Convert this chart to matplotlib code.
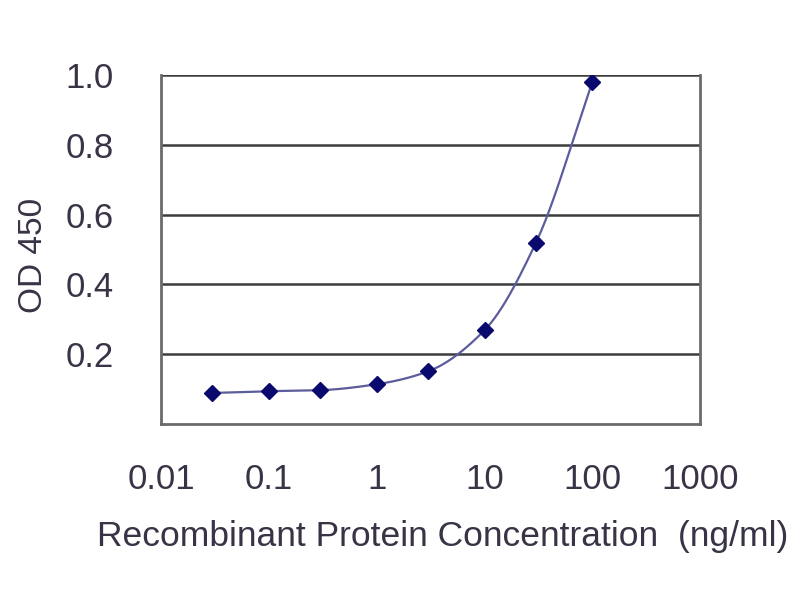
import numpy as np
import matplotlib
matplotlib.use("Agg")
import matplotlib.pyplot as plt

conc = [0.03, 0.1, 0.3, 1, 3, 10, 30, 100]
od450 = [0.089, 0.094, 0.097, 0.114, 0.151, 0.269, 0.52, 0.98]
yticks = [0.2, 0.4, 0.6, 0.8, 1.0]
ytick_labels = ["0.2", "0.4", "0.6", "0.8", "1.0"]
xticks = [0.01, 0.1, 1, 10, 100, 1000]
xtick_labels = ["0.01", "0.1", "1", "10", "100", "1000"]

plt.rcParams['font.family'] = ['Liberation Sans', 'DejaVu Sans']
txt = '#3a3345'


def pchip(x, y, xn):
    x = np.asarray(x, float); y = np.asarray(y, float)
    h = np.diff(x); d = np.diff(y) / h
    n = len(x); m = np.zeros(n)
    for k in range(1, n - 1):
        if d[k - 1] * d[k] > 0:
            w1 = 2 * h[k] + h[k - 1]; w2 = h[k] + 2 * h[k - 1]
            m[k] = (w1 + w2) / (w1 / d[k - 1] + w2 / d[k])
    m[0] = d[0]; m[-1] = d[-1]
    idx = np.clip(np.searchsorted(x, xn) - 1, 0, n - 2)
    t = (xn - x[idx]) / h[idx]
    h00 = 2 * t**3 - 3 * t**2 + 1; h10 = t**3 - 2 * t**2 + t
    h01 = -2 * t**3 + 3 * t**2; h11 = t**3 - t**2
    return h00 * y[idx] + h10 * h[idx] * m[idx] + h01 * y[idx + 1] + h11 * h[idx] * m[idx + 1]


fig = plt.figure(figsize=(8, 6), dpi=100)
ax = fig.add_axes([0.2013, 0.2933, 0.674, 0.5817])

lx = np.log10(conc)
xs = np.linspace(lx[0], lx[-1], 300)
ax.plot(10**xs, pchip(lx, od450, xs), color='#5c5c9c', lw=1.6, zorder=3)
ax.plot(conc, od450, linestyle='none', marker='D', markersize=8.5, color='#0a0a6e', zorder=4)

ax.set_xscale('log')
ax.set_xlim(0.01, 1000)
ax.set_ylim(0, 1.0)
ax.set_xticks(xticks)
ax.set_xticklabels(xtick_labels)
ax.minorticks_off()
ax.set_yticks(yticks)
ax.set_yticklabels(ytick_labels)
for y in yticks:
    ax.axhline(y, color='#3c3c3c', lw=1.8, zorder=1)
for s in ax.spines.values():
    s.set_color('#6a6a6a'); s.set_linewidth(2)
ax.spines['top'].set_visible(False)
ax.tick_params(axis='y', length=0, labelsize=25, labelcolor=txt, pad=34)
ax.tick_params(axis='x', length=0, labelsize=25, labelcolor=txt, pad=28)
ax.set_xlabel('Recombinant Protein Concentration  (ng/ml)', fontsize=25.5, color=txt, labelpad=17)
ax.set_ylabel('OD 450', fontsize=24, color=txt, labelpad=12)
ax.xaxis.label.set_x(0.522)
ax.yaxis.label.set_y(0.483)

fig.savefig('out.png', dpi=100)
